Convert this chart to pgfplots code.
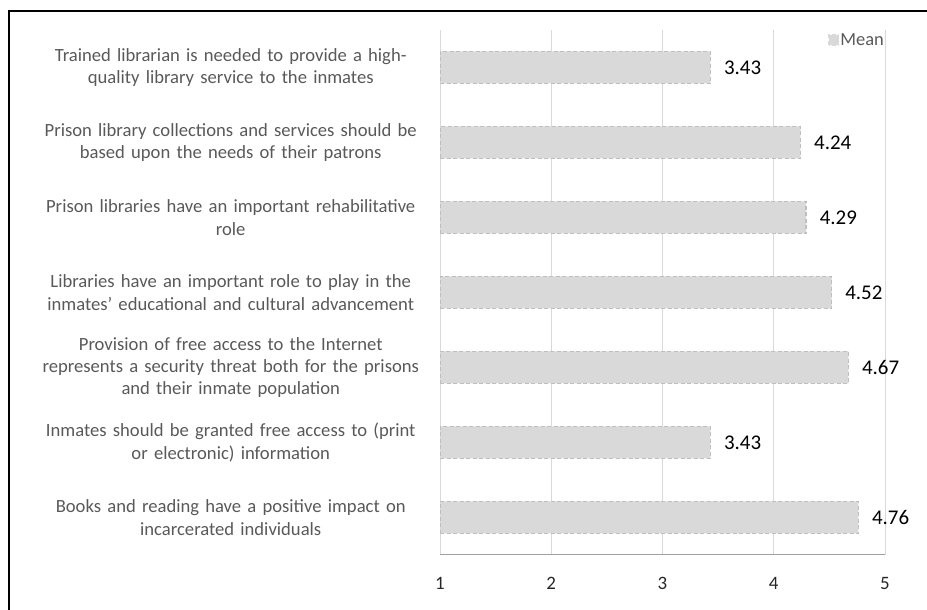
\documentclass[border=0pt]{standalone}
\usepackage{fontspec}
\setmainfont{Carlito}
\usepackage{pgfplots}
\pgfplotsset{compat=1.18}
\definecolor{barfill}{HTML}{D9D9D9}
\definecolor{bardraw}{HTML}{BFBFBF}
\definecolor{gridc}{HTML}{D9D9D9}
\definecolor{labc}{HTML}{595959}
\definecolor{basec}{HTML}{A0A0A0}
\pgfplotstableread{
y v
1 4.76
2 3.43
3 4.67
4 4.52
5 4.29
6 4.24
7 3.43
}\meandata
\begin{document}
\begin{tikzpicture}[x=1bp,y=1bp]
\begin{axis}[
  at={(440bp,55bp)}, anchor=south west,
  scale only axis, width=445bp, height=525bp,
  xbar, bar width=32bp,
  xmin=1, xmax=5, ymin=0.5, ymax=7.5,
  xtick={1,2,3,4,5}, ytick={1,2,3,4,5,6,7},
  yticklabels={
    {Books and reading have a positive impact on\\incarcerated individuals},
    {Inmates should be granted free access to (print\\or electronic) information},
    {Provision of free access to the Internet\\represents a security threat both for the prisons\\and their inmate population},
    {Libraries have an important role to play in the\\inmates' educational and cultural advancement},
    {Prison libraries have an important rehabilitative\\role},
    {Prison library collections and services should be\\based upon the needs of their patrons},
    {Trained librarian is needed to provide a high-\\quality library service to the inmates}},
  yticklabel style={text width=400bp, align=center, text=labc, font=\fontsize{18.7}{22.5}\selectfont, xshift=-1.5bp},
  xticklabel style={font=\fontsize{19}{22}\selectfont, text=black!85, yshift=-19bp},
  /pgf/number format/assume math mode=true,
  axis line style={draw=none},
  major tick style={draw=none},
  xmajorgrids, grid style={gridc, line width=1bp},
  nodes near coords, point meta=x,
  nodes near coords style={font=\fontsize{21}{24}\selectfont, text=black, anchor=west, inner sep=0pt, xshift=13bp,
    /pgf/number format/fixed, /pgf/number format/precision=2, /pgf/number format/fixed zerofill, /pgf/number format/assume math mode=true},
  legend style={at={(rel axis cs:1,1)}, anchor=north east, draw=none, fill=none, inner sep=0pt, yshift=-2bp,
    font=\fontsize{18.5}{20}\selectfont, text=labc, nodes={inner sep=1bp}},
  legend image code/.code={\fill[barfill] (-4bp,-5bp) rectangle (6bp,5bp);},
]
\addplot[fill=barfill, draw=bardraw, line width=1.5bp, dash pattern=on 4bp off 2.5bp] table[x=v, y=y] {\meandata};
\addlegendentry{Mean}
\draw[basec, line width=2bp] (rel axis cs:0,0) -- (rel axis cs:1,0);
\end{axis}
\draw[black, line width=1.3bp] (9,-5) -- (9,599) -- (935,599);
\pgfresetboundingbox
\useasboundingbox (0,0) rectangle (927,610);
\end{tikzpicture}
\end{document}
